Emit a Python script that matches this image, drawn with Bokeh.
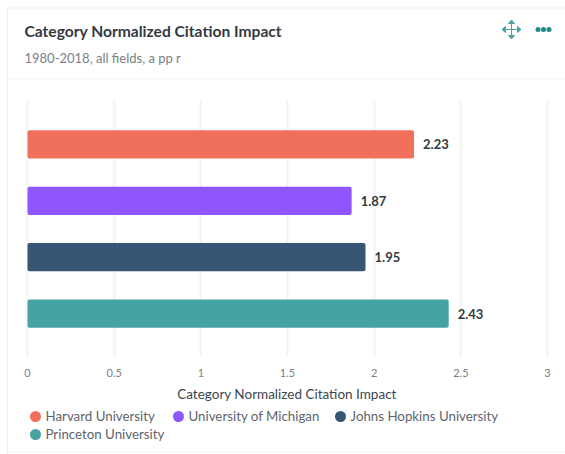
from bokeh.embed import file_html
from bokeh.resources import INLINE
from bokeh.layouts import column
from bokeh.plotting import figure
from bokeh.models import ColumnDataSource, FactorRange, Range1d, FixedTicker, Span
from bokeh.core.properties import value

title = "Category Normalized Citation Impact"
subtitle = "1980-2018, all fields, a pp r"
axis_title = "Category Normalized Citation Impact"
universities = ["Harvard University", "University of Michigan", "Johns Hopkins University", "Princeton University"]
impact = [2.23, 1.87, 1.95, 2.43]
colors = ["#F1705C", "#8F55FF", "#375674", "#45A3A2"]
ticks = [0, 0.5, 1, 1.5, 2, 2.5, 3]
tick_labels = ["0", "0.5", "1", "1.5", "2", "2.5", "3"]
legend_x = [35, 178, 340, 35]
legend_y = [11, 11, 11, 29]

FONT = "Lato"
W = 565
LEFT = 8
H_HEAD, H_MAIN, H_LEG = 100, 305, 49
EDGE = "#EFEFEF"
SOFT = "#F3F3F3"
TEAL = "#45A3A2"
CARD_EDGE = f"linear-gradient(to right, white 7px, {EDGE} 7px, {EDGE} 8px, white 8px)"


def band(h):
    f = figure(width=W, height=h, output_backend="svg", toolbar_location=None,
               x_range=Range1d(LEFT, W), y_range=Range1d(h, 0), min_border=0, min_border_left=LEFT,
               outline_line_color=None, border_fill_alpha=0, background_fill_color="white")
    f.styles = {"background": CARD_EDGE}
    f.axis.visible = False
    f.grid.visible = False
    return f


def txt(f, x, y, s, size, color, style="normal"):
    f.text([x], [y], text=[s], text_font=value(FONT), text_font_size=size, text_color=color,
           text_font_style=style, text_baseline="middle")


# header band
head = band(H_HEAD)
head.styles = {"background": CARD_EDGE + " 0 7px no-repeat"}
head.add_layout(Span(location=7.5, dimension="width", line_color=EDGE, line_width=1))
head.add_layout(Span(location=78.5, dimension="width", line_color=SOFT, line_width=1))
txt(head, 24, 30, title, "15.6px", "#333A42", "bold")
txt(head, 24, 57, subtitle, "13px", "#7A7F85")
cx, cy = 511, 29
head.segment([cx - 7, cx], [cy, cy - 7], [cx + 7, cx], [cy, cy + 7], line_color=TEAL, line_width=1)
for s in (1, -1):
    head.patch([cx + s * 9.5, cx + s * 6, cx + s * 6], [cy, cy - 3, cy + 3], color=TEAL)
    head.patch([cx, cx - 3, cx + 3], [cy + s * 9.5, cy + s * 6, cy + s * 6], color=TEAL)
head.scatter([537.5, 543, 548.5], [29, 29, 29], size=5, marker="circle", fill_color="#1F8A8A", line_color=None)

# chart band: the frame runs from x=8, so the axis title centres where the reference has it
source = ColumnDataSource(dict(u=universities, v=impact, c=colors, t=[f"{x:.2f}" for x in impact]))
p = figure(width=W, height=H_MAIN, output_backend="svg", toolbar_location=None,
           x_range=Range1d(-0.1096, 3.1038),
           y_range=FactorRange(factors=universities[::-1], range_padding=0.28, range_padding_units="absolute"),
           min_border_left=LEFT, min_border_right=0, min_border_top=0, min_border_bottom=H_MAIN - 257,
           outline_line_color=None, background_fill_color="white", border_fill_alpha=0)
p.styles = {"background": CARD_EDGE}
p.yaxis.visible = False
p.ygrid.visible = False
p.xgrid.ticker = FixedTicker(ticks=ticks)
p.xgrid.grid_line_color = SOFT
p.xgrid.grid_line_width = 2
ax = p.xaxis[0]
ax.ticker = FixedTicker(ticks=ticks)
ax.major_label_overrides = {t: l for t, l in zip(ticks, tick_labels)}
ax.axis_line_color = None
ax.major_tick_line_color = None
ax.minor_tick_line_color = None
ax.major_label_text_font = FONT
ax.major_label_text_font_size = "11px"
ax.major_label_text_color = "#7A7F85"
ax.major_label_standoff = 5
ax.axis_label = axis_title
ax.axis_label_text_font = FONT
ax.axis_label_text_font_style = "normal"
ax.axis_label_text_font_size = "13.5px"
ax.axis_label_text_color = "#3E4650"
ax.axis_label_standoff = 6
p.hbar(y="u", right="v", left=0, height=0.5, fill_color="c", line_color=None, source=source, border_radius=2)
p.text(x="v", y="u", text="t", source=source, x_offset=9, text_baseline="middle",
       text_font=value(FONT), text_font_size="13px", text_font_style="bold", text_color="#333A42")

# legend band
leg = band(H_LEG)
leg.add_layout(Span(location=46.5, dimension="width", line_color=SOFT, line_width=1))
for name, c, lx, ly in zip(universities, colors, legend_x, legend_y):
    leg.scatter([lx], [ly], size=11, marker="circle", fill_color=c, line_color=None)
    txt(leg, lx + 10, ly - 1, name, "13.3px", "#5E656D")

page = column(head, p, leg, spacing=0)
open("out.html", "w").write(file_html(page, INLINE))
